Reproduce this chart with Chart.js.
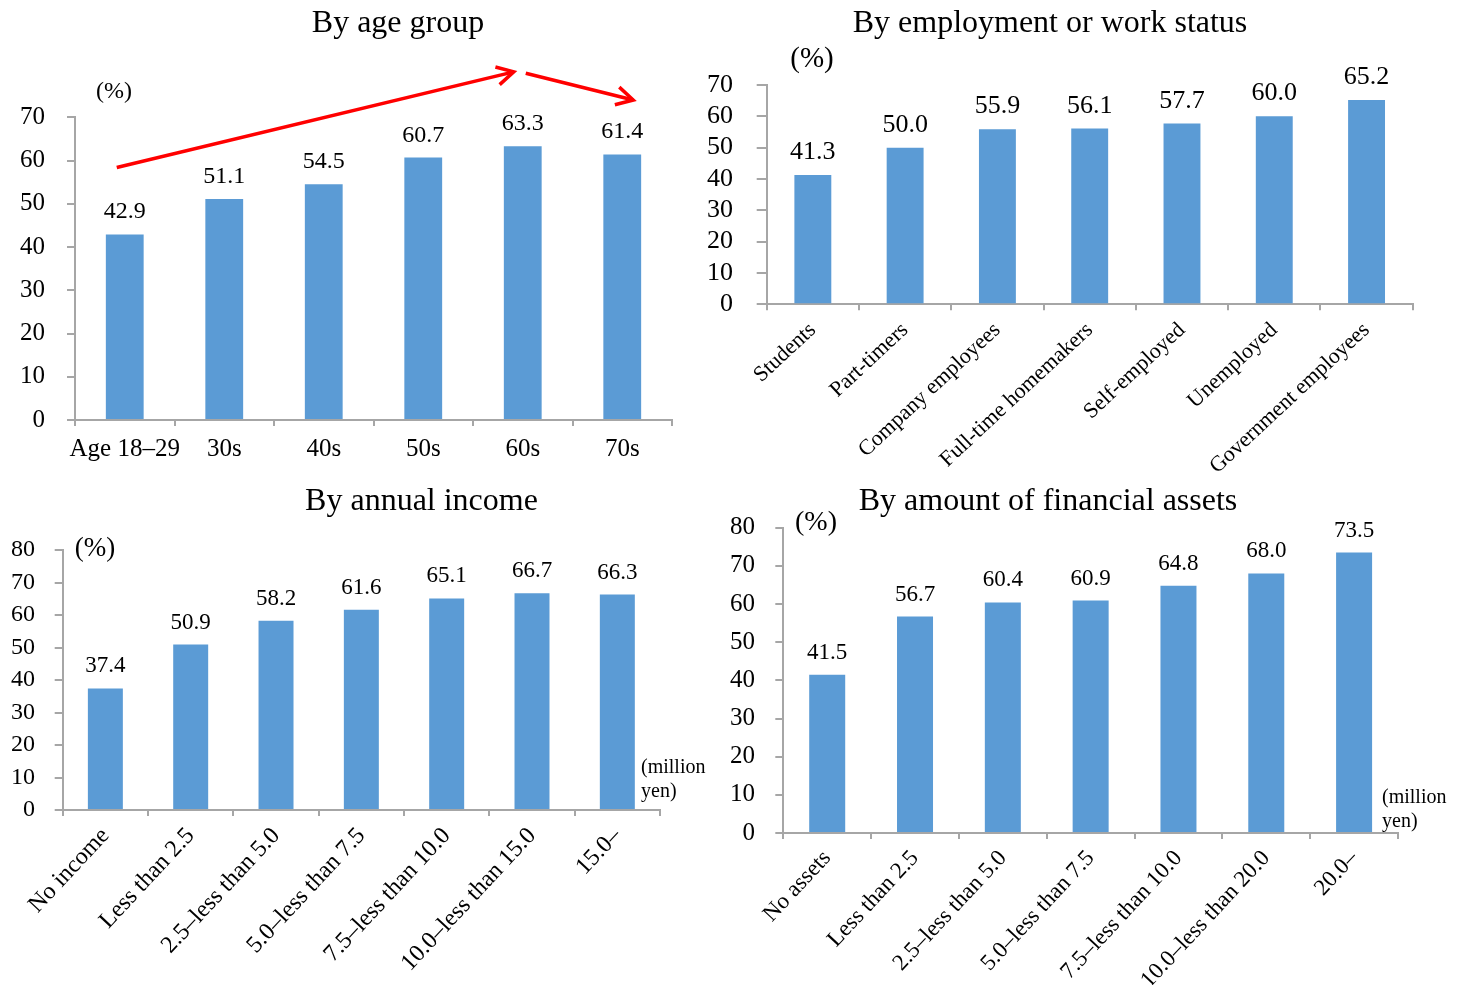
<!DOCTYPE html>
<html>
<head>
<meta charset="utf-8">
<script src="https://cdn.jsdelivr.net/npm/chart.js@4.4.0/dist/chart.umd.min.js"></script>
<style>
  body { margin: 0; background: #fff; }
  #wrap { position: relative; width: 1464px; height: 985px; overflow: hidden; background: #fff; }
  canvas { position: absolute; }
</style>
</head>
<body>
<div id="wrap">
  <canvas id="cAge" width="700" height="480" style="left:0px;top:0px"></canvas>
  <canvas id="cWork" width="764" height="490" style="left:700px;top:0px"></canvas>
  <canvas id="cIncome" width="720" height="505" style="left:0px;top:480px"></canvas>
  <canvas id="cAssets" width="744" height="505" style="left:720px;top:480px"></canvas>
</div>
<script>
// data
var ageLabels = ['Age 18\u201329', '30s', '40s', '50s', '60s', '70s'];
var ageValues = [42.9, 51.1, 54.5, 60.7, 63.3, 61.4];

var workLabels = ['Students', 'Part-timers', 'Company employees', 'Full-time homemakers',
                  'Self-employed', 'Unemployed', 'Government employees'];
var workValues = [41.3, 50.0, 55.9, 56.1, 57.7, 60.0, 65.2];

var incomeLabels = ['No income', 'Less than 2.5', '2.5\u2013less than 5.0', '5.0\u2013less than 7.5',
                    '7.5\u2013less than 10.0', '10.0\u2013less than 15.0', '15.0\u2013'];
var incomeValues = [37.4, 50.9, 58.2, 61.6, 65.1, 66.7, 66.3];

var assetLabels = ['No assets', 'Less than 2.5', '2.5\u2013less than 5.0', '5.0\u2013less than 7.5',
                   '7.5\u2013less than 10.0', '10.0\u2013less than 20.0', '20.0\u2013'];
var assetValues = [41.5, 56.7, 60.4, 60.9, 64.8, 68.0, 73.5];

var barColor  = '#5B9BD5',
    axisColor = '#A6A6A6',
    fontName  = '"Liberation Serif", "Times New Roman", serif';

Chart.defaults.font.family = fontName;
Chart.defaults.color = '#000';

function $each(arr, fn){
    for(var i = 0; i < arr.length; i++){ fn(i, arr[i]); }
}

var drawArrow = function(ctx, x1, y1, x2, y2){
    var a = Math.atan2(y2 - y1, x2 - x1), len = 19;
    ctx.beginPath();
    ctx.moveTo(x1, y1);
    ctx.lineTo(x2, y2);
    ctx.stroke();
    ctx.beginPath();
    ctx.moveTo(x2 - len * Math.cos(a - 0.5), y2 - len * Math.sin(a - 0.5));
    ctx.lineTo(x2, y2);
    ctx.lineTo(x2 - len * Math.cos(a + 0.5), y2 - len * Math.sin(a + 0.5));
    ctx.stroke();
};

// titles, value labels, (%) and the other bits of text
var extrasPlugin = function(opt){
    return {
        id: 'extras',
        afterDatasetsDraw: function(chart){
            var ctx  = chart.ctx,
                meta = chart.getDatasetMeta(0),
                vals = chart.data.datasets[0].data,
                xs   = chart.scales.x,
                ys   = chart.scales.y;

            ctx.save();
            ctx.fillStyle = '#000';
            ctx.textAlign = 'center';
            ctx.textBaseline = 'alphabetic';

            ctx.font = opt.valFont + 'px ' + fontName;
            $each(meta.data, function(i, bar){
                ctx.fillText(vals[i].toFixed(1), bar.x, bar.y - 16);
            });

            ctx.font = '32px ' + fontName;
            ctx.fillText(opt.title, opt.titlePos[0], opt.titlePos[1]);

            ctx.font = opt.pctFont + 'px ' + fontName;
            ctx.fillText('(%)', opt.pctPos[0], opt.pctPos[1]);

            if(opt.unitPos){
                ctx.textAlign = 'left';
                ctx.font = '20px ' + fontName;
                ctx.fillText('(million', opt.unitPos[0], opt.unitPos[1]);
                ctx.fillText('yen)', opt.unitPos[0], opt.unitPos[1] + 24);
            }

            if(opt.arrows){
                ctx.strokeStyle = '#FF0000';
                ctx.lineWidth = 3.5;
                $each(opt.arrows, function(i, seg){
                    drawArrow(ctx,
                        xs.getPixelForValue(seg[0]) + seg[1], ys.getPixelForValue(seg[2]),
                        xs.getPixelForValue(seg[3]) + seg[4], ys.getPixelForValue(seg[5]));
                });
            }
            ctx.restore();
        }
    };
};

var buildChart = function(canvasId, labels, values, opt){
    var canvas = document.getElementById(canvasId),
        cw     = canvas.width,
        ch     = canvas.height;

    return new Chart(canvas, {
        type: 'bar',
        data: {
            labels: labels,
            datasets: [{
                data: values,
                backgroundColor: barColor,
                borderWidth: 0,
                categoryPercentage: 1,
                barPercentage: opt.barPct
            }]
        },
        options: {
            responsive: false,
            animation: false,
            devicePixelRatio: 1,
            layout: {
                padding: { left: 0, top: opt.area.top, right: cw - opt.area.right, bottom: 0 }
            },
            plugins: {
                legend: { display: false },
                tooltip: { enabled: false }
            },
            scales: {
                x: {
                    offset: true,
                    grid: { offset: true, drawOnChartArea: false, tickLength: 6, color: axisColor, lineWidth: 2 },
                    border: { color: axisColor, width: 2 },
                    ticks: {
                        autoSkip: false,
                        minRotation: opt.rot,
                        maxRotation: opt.rot,
                        padding: opt.xPad,
                        font: { size: opt.xFont },
                        color: '#000'
                    },
                    afterFit: function(s){ s.height = ch - opt.area.bottom; }
                },
                y: {
                    min: 0,
                    max: opt.yMax,
                    grid: { drawOnChartArea: false, tickLength: opt.yTick, color: axisColor, lineWidth: 2 },
                    border: { color: axisColor, width: 2 },
                    ticks: {
                        autoSkip: false,
                        stepSize: 10,
                        padding: opt.yPad,
                        font: { size: opt.yFont },
                        color: '#000'
                    },
                    afterFit: function(s){ s.width = opt.area.left; }
                }
            }
        },
        plugins: [extrasPlugin(opt)]
    });
};

buildChart('cAge', ageLabels, ageValues, {
    area: { left: 75, top: 117.3, right: 672, bottom: 420 },
    yMax: 70, yTick: 8, yPad: 22, yFont: 25,
    xFont: 25, rot: 0, xPad: 8,
    barPct: 0.38, valFont: 24,
    title: 'By age group', titlePos: [398, 32],
    pctFont: 24, pctPos: [114, 98],
    // [fromIndex, dx, fromValue, toIndex, dx, toValue]
    arrows: [[0, -8, 58.4, 4, -9, 80.5], [4, 3, 80.2, 5, 11, 74.0]]
});

buildChart('cWork', workLabels, workValues, {
    area: { left: 66.7, top: 85, right: 712.7, bottom: 304.3 },
    yMax: 70, yTick: 10, yPad: 23.7, yFont: 26,
    xFont: 22, rot: 43, xPad: 7,
    barPct: 0.40, valFont: 26,
    title: 'By employment or work status', titlePos: [350, 32],
    pctFont: 29, pctPos: [112, 67]
});

buildChart('cIncome', incomeLabels, incomeValues, {
    area: { left: 62.7, top: 70, right: 660, bottom: 330 },
    yMax: 80, yTick: 8, yPad: 19.7, yFont: 24,
    xFont: 24, rot: 47, xPad: 6,
    barPct: 0.41, valFont: 23,
    title: 'By annual income', titlePos: [421.5, 30],
    pctFont: 27, pctPos: [95, 76],
    unitPos: [641, 293]
});

buildChart('cAssets', assetLabels, assetValues, {
    area: { left: 63.3, top: 47.7, right: 678, bottom: 353 },
    yMax: 80, yTick: 8, yPad: 20.3, yFont: 25,
    xFont: 23, rot: 47, xPad: 6,
    barPct: 0.41, valFont: 23,
    title: 'By amount of financial assets', titlePos: [328, 30],
    pctFont: 28, pctPos: [96, 50],
    unitPos: [662, 323]
});
</script>
</body>
</html>
